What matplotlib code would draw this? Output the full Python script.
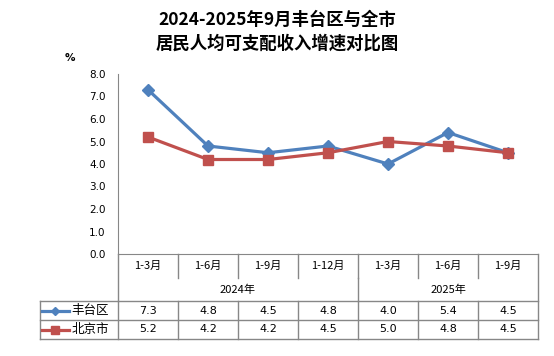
import matplotlib.pyplot as plt
from matplotlib.lines import Line2D
import matplotlib.transforms as mtransforms

plt.rcParams['font.family'] = ['Noto Sans CJK SC', 'DejaVu Sans']

months = ["1-3月", "1-6月", "1-9月", "1-12月", "1-3月", "1-6月", "1-9月"]
years = ["2024年", "2025年"]
fengtai = [7.3, 4.8, 4.5, 4.8, 4.0, 5.4, 4.5]
beijing = [5.2, 4.2, 4.2, 4.5, 5.0, 4.8, 4.5]
blue = "#4F81BD"
red = "#C0504D"
grid_c = "#878787"

fig = plt.figure(figsize=(5.54, 3.56), dpi=100)
ax = fig.add_axes([118 / 554, 102 / 356, 420 / 554, 180 / 356])
x = list(range(len(months)))
ax.plot(x, fengtai, color=blue, lw=2.3, marker="D", ms=6, zorder=3)
ax.plot(x, beijing, color=red, lw=2.3, marker="s", ms=7.5, zorder=3)
ax.set_xlim(-0.5, len(months) - 0.5)
ax.set_ylim(0, 8)
ax.set_yticks([i for i in range(9)])
ax.set_yticklabels([f"{v:.1f}" for v in range(9)], fontsize=7.5, family="DejaVu Sans")
ax.tick_params(axis="y", length=0, pad=9)
ax.set_xticks([])
for s in ["top", "right"]:
    ax.spines[s].set_visible(False)
for s in ["left", "bottom"]:
    ax.spines[s].set_color(grid_c)
ax.text(-0.114, 1.09, "%", transform=ax.transAxes, fontsize=7.5, family="DejaVu Sans",
        fontweight="bold", ha="center", va="center")

tr = mtransforms.blended_transform_factory(ax.transData, ax.transAxes)
r_month = -24 / 180
r_year = -47 / 180
r_ft = -66 / 180
r_bj = -85 / 180
left = -1.8
right = len(months) - 0.5


def seg(x0, x1, y0, y1):
    ax.add_line(Line2D([x0, x1], [y0, y1], transform=tr, color=grid_c, lw=1, clip_on=False))


# month tick lines
for k in range(1, len(months)):
    seg(k - 0.5, k - 0.5, 0, r_month)
seg(-0.5, -0.5, 0, r_year)
seg(right, right, 0, r_bj)
seg(3.5, 3.5, r_month, r_year)
# data rows
seg(left, right, r_year, r_year)
seg(left, right, r_ft, r_ft)
seg(left, right, r_bj, r_bj)
seg(left, left, r_year, r_bj)
for k in range(0, len(months)):
    seg(k - 0.5, k - 0.5, r_year, r_bj)

for i, m in enumerate(months):
    ax.text(i, r_month / 2, m, transform=tr, ha="center", va="center", fontsize=8)
ax.text(1.5, (r_month + r_year) / 2, years[0], transform=tr, ha="center", va="center", fontsize=8)
ax.text(5, (r_month + r_year) / 2, years[1], transform=tr, ha="center", va="center", fontsize=8)

for vals, yr0, yr1, name, col, mk, ms in [
    (fengtai, r_year, r_ft, "丰台区", blue, "D", 4.5),
    (beijing, r_ft, r_bj, "北京市", red, "s", 5.5),
]:
    yc = (yr0 + yr1) / 2
    for i, v in enumerate(vals):
        ax.text(i, yc, f"{v:.1f}", transform=tr, ha="center", va="center", fontsize=8,
                family="DejaVu Sans")
    ax.add_line(Line2D([-1.77, -1.32], [yc, yc], transform=tr, color=col, lw=2.3,
                       clip_on=False))
    ax.add_line(Line2D([-1.55], [yc], transform=tr, color=col, marker=mk, ms=ms,
                       clip_on=False))
    ax.text(-1.27, yc, name, transform=tr, ha="left", va="center", fontsize=9)

fig.text(0.5, 0.943, "2024-2025年9月丰台区与全市", ha="center", va="center",
         fontsize=12.5, fontweight="bold")
fig.text(0.5, 0.877, "居民人均可支配收入增速对比图", ha="center", va="center",
         fontsize=12.5, fontweight="bold")

fig.savefig("out.png", dpi=100)
